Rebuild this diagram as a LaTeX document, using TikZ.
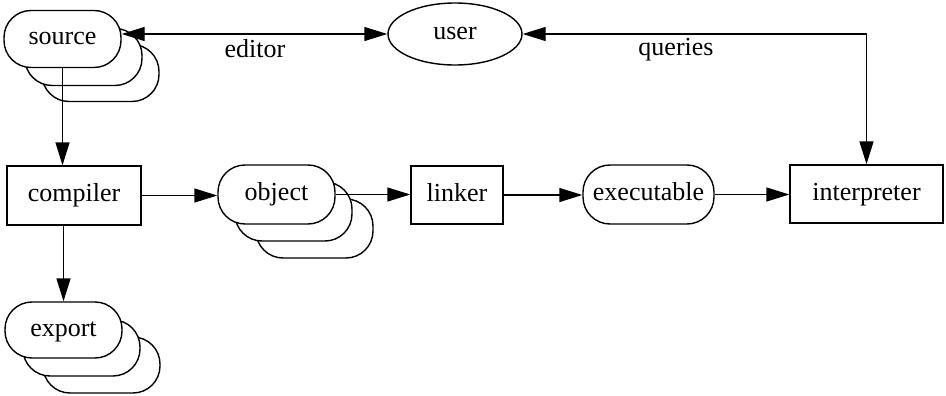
\documentclass[tikz,border=0pt]{standalone}
\usepackage{fontspec}
\setmainfont{Liberation Serif}
\usetikzlibrary{arrows.meta,shapes.geometric}
\begin{document}
\begin{tikzpicture}[x=1pt,y=-1pt,
  every node/.style={font=\fontsize{26}{30}\selectfont, inner sep=0pt, text height=17pt, text depth=5pt},
  stad/.style={draw, line width=1.4pt, fill=white, rounded corners=27pt, minimum width=117pt, minimum height=57pt},
  boxn/.style={draw, line width=1.4pt, fill=white, minimum height=58pt},
  arr/.style={line width=1.4pt, -{Triangle[length=23pt,width=14pt]}},
  dbl/.style={line width=1.4pt, {Triangle[length=23pt,width=14pt]}-{Triangle[length=23pt,width=14pt]}}]
\useasboundingbox (0,0) rectangle (946,396);
% source stack
\node[stad] (srcC) at (100.5,73) {};
\node[stad] (srcB) at (83.5,57) {};
\node[stad] (source) at (62.5,39) {source};
% export stack
\node[stad, minimum height=56pt] (expC) at (101.5,365) {};
\node[stad, minimum height=56pt] (expB) at (81.5,348) {};
\node[stad, minimum height=56pt] (export) at (63.5,330) {export};
% object stack
\node[stad, minimum height=59pt] (objC) at (314.5,228.5) {};
\node[stad, minimum height=59pt] (objB) at (293.5,211.5) {};
\node[stad, minimum height=59pt] (object) at (276.5,194.5) {object};
% single stadium
\node[stad, minimum width=131pt, minimum height=59pt] (exec) at (648.5,194.5) {executable};
% boxes
\node[boxn, minimum width=134pt, minimum height=59pt] (compiler) at (74,195.5) {compiler};
\node[boxn, minimum width=92pt] (linker) at (457,195) {linker};
\node[boxn, minimum width=153pt] (interp) at (866.5,194) {interpreter};
% user
\node[draw, ellipse, line width=1.4pt, minimum width=134pt, minimum height=62pt] (user) at (455,34) {user};
% labels
\node (editor) at (255,52) {editor};
\node (queries) at (676,50) {queries};
% connectors
\draw[dbl] (user.west) -- (user.west -| source.east);
\draw[dbl] (user.east) -| (interp.north);
\draw[arr] (source.south) -- (source.south |- compiler.north);
\draw[arr] (export.north |- compiler.south) -- (export.north);
\draw[arr] (compiler.east) -- (compiler.east -| object.west);
\draw[arr] (object.east) -- (object.east -| linker.west);
\draw[arr] (linker.east) -- (linker.east -| exec.west);
\draw[arr] (exec.east) -- (exec.east -| interp.west);
\end{tikzpicture}
\end{document}
